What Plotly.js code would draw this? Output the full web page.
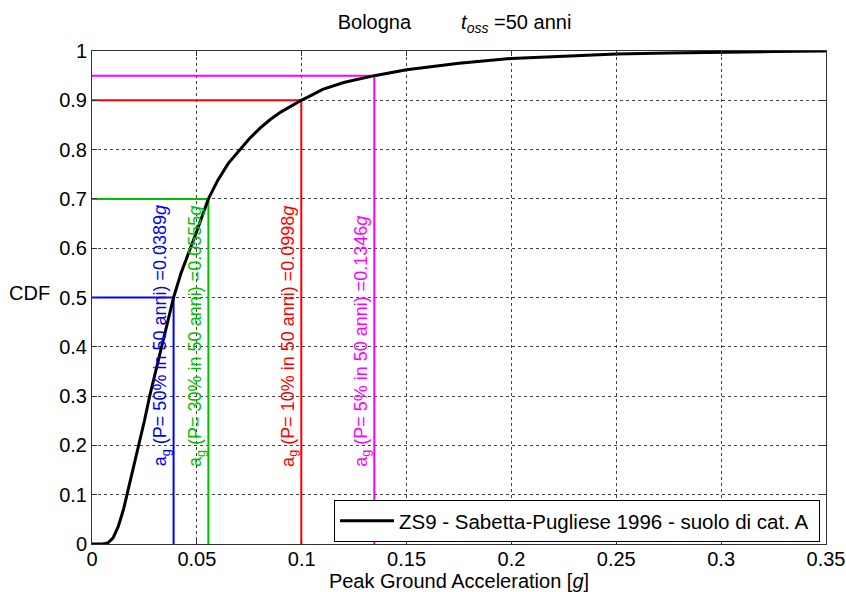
<!DOCTYPE html>
<html>
<head>
<meta charset="utf-8">
<script src="https://cdn.plot.ly/plotly-3.0.1.min.js"></script>
<style>html,body{margin:0;padding:0;background:#fff;}#chart{width:846px;height:592px;}</style>
</head>
<body>
<div id="chart"></div>
<script>
// CDF curve (PGA in g vs cumulative probability)
const pga = [0, 0.005, 0.0075, 0.01, 0.0125, 0.015, 0.0175, 0.02, 0.0225, 0.025, 0.0275, 0.03, 0.0325, 0.035, 0.0389, 0.0425, 0.047, 0.05, 0.0555, 0.06, 0.065, 0.07, 0.075, 0.08, 0.085, 0.09, 0.095, 0.0998, 0.105, 0.11, 0.12, 0.1346, 0.15, 0.175, 0.2, 0.225, 0.25, 0.275, 0.3, 0.325, 0.35];
const cdf = [0, 0, 0.002, 0.012, 0.035, 0.07, 0.115, 0.16, 0.2, 0.25, 0.3, 0.345, 0.39, 0.43, 0.5, 0.55, 0.6, 0.635, 0.7, 0.738, 0.772, 0.798, 0.822, 0.843, 0.861, 0.876, 0.889, 0.9, 0.911, 0.922, 0.936, 0.95, 0.962, 0.975, 0.985, 0.99, 0.994, 0.996, 0.998, 0.999, 1.0];

// reference levels
const agValues = [0.0389, 0.0555, 0.0998, 0.1346];
const cdfLevels = [0.5, 0.7, 0.9, 0.95];
const exceedP = ['50%', '30%', '10%', '5%'];
const refColors = ['#0000ff', '#00bf00', '#ff0000', '#ff00ff'];
const labelY = 0.155;

const xTicks = [0, 0.05, 0.1, 0.15, 0.2, 0.25, 0.3, 0.35];
const xTickText = ['0', '0.05', '0.1', '0.15', '0.2', '0.25', '0.3', '0.35'];
const yTicks = [0, 0.1, 0.2, 0.3, 0.4, 0.5, 0.6, 0.7, 0.8, 0.9, 1];
const yTickText = ['0', '0.1', '0.2', '0.3', '0.4', '0.5', '0.6', '0.7', '0.8', '0.9', '1'];

const FONT = 'Liberation Sans, Arial, sans-serif';

const traces = [];
agValues.forEach((ag, i) => {
  traces.push({
    x: [0, ag, ag], y: [cdfLevels[i], cdfLevels[i], 0],
    mode: 'lines', line: {color: refColors[i], width: 2},
    showlegend: false, hoverinfo: 'skip'
  });
});
traces.push({
  x: pga, y: cdf, mode: 'lines',
  line: {color: '#000', width: 3},
  name: 'ZS9 - Sabetta-Pugliese 1996 - suolo di cat. A\u00a0'
});

const annotations = agValues.map((ag, i) => ({
  x: ag, y: labelY, xref: 'x', yref: 'y',
  xanchor: 'right', yanchor: 'bottom', textangle: -90,
  showarrow: false, borderpad: 0,
  text: 'a<sub>g</sub>\u00a0(P= ' + exceedP[i] + ' in 50 anni) =' + ag.toFixed(4) + '<i>g</i>',
  font: {family: FONT, size: 18, color: refColors[i]}
}));
annotations.push({
  x: -0.055, y: 0.509, xref: 'paper', yref: 'paper',
  xanchor: 'right', yanchor: 'middle', showarrow: false,
  text: 'CDF', font: {family: FONT, size: 20, color: '#000'}
});

const axisCommon = {
  showline: true, linecolor: '#333', linewidth: 1, mirror: 'ticks',
  ticks: 'inside', ticklen: 5, tickcolor: '#333',
  showgrid: true, gridcolor: '#444', griddash: 'dot', gridwidth: 1,
  zeroline: false, tickfont: {family: FONT, size: 20, color: '#000'}
};

const layout = {
  width: 846, height: 592,
  margin: {l: 92, r: 20, t: 51, b: 48, pad: 0},
  paper_bgcolor: '#fff', plot_bgcolor: '#fff',
  font: {family: FONT, color: '#000'},
  title: {
    text: 'Bologna\u00a0\u00a0\u00a0\u00a0\u00a0\u00a0\u00a0\u00a0\u00a0<i>t</i><sub><i>oss</i></sub> =50 anni',
    font: {family: FONT, size: 20, color: '#000'},
    x: 0.4939, xref: 'paper', xanchor: 'center',
    y: 0.963, yref: 'container', yanchor: 'middle'
  },
  xaxis: Object.assign({}, axisCommon, {
    range: [0, 0.35], tickvals: xTicks, ticktext: xTickText,
    ticklabelstandoff: -3,
    title: {text: 'Peak Ground Acceleration [<i>g</i>]', font: {family: FONT, size: 20, color: '#000'}, standoff: 4}
  }),
  yaxis: Object.assign({}, axisCommon, {
    range: [0, 1], tickvals: yTicks, ticktext: yTickText
  }),
  showlegend: true,
  legend: {
    x: 0.9918, xanchor: 'right', y: 0.004, yanchor: 'bottom',
    bgcolor: '#fff', bordercolor: '#000', borderwidth: 1,
    itemwidth: 54,
    font: {family: FONT, size: 20.5, color: '#000'}
  },
  annotations: annotations
};

Plotly.newPlot('chart', traces, layout, {staticPlot: true});
</script>
</body>
</html>
